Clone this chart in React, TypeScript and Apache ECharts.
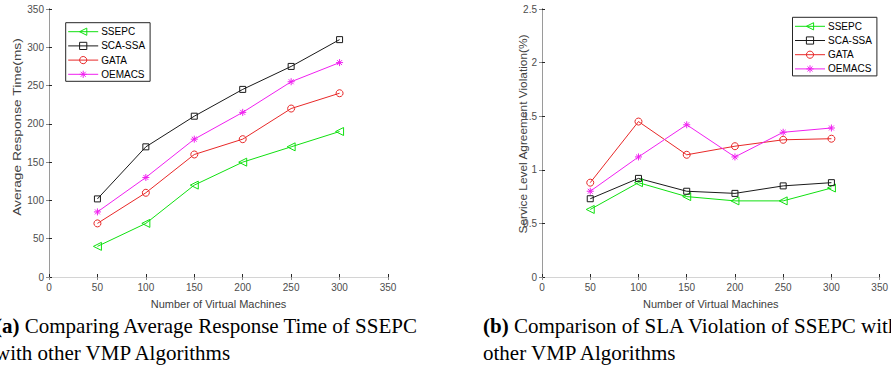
import React, { useEffect, useRef } from 'react';
import * as echarts from 'echarts';

// ---------- data ----------
const vmCounts = [50, 100, 150, 200, 250, 300];
const seriesNames = ['SSEPC', 'SCA-SSA', 'GATA', 'OEMACS'];

// (a) Average Response Time (ms)
const rtSSEPC = [40, 70, 120, 150, 170, 190];
const rtSCASSA = [102, 170, 210, 245, 275, 310];
const rtGATA = [70, 110, 160, 180, 220, 240];
const rtOEMACS = [85, 130, 180, 215, 255, 280];

// (b) SLA violation (%)
const slaSSEPC = [0.63, 0.88, 0.75, 0.71, 0.71, 0.83];
const slaSCASSA = [0.73, 0.92, 0.8, 0.78, 0.85, 0.88];
const slaGATA = [0.88, 1.45, 1.14, 1.22, 1.28, 1.29];
const slaOEMACS = [0.8, 1.12, 1.42, 1.12, 1.35, 1.39];

const xRange = { min: 0, max: 350, interval: 50 };
const rtRange = { min: 0, max: 350, interval: 50 };
const slaRange = { min: 0, max: 2.5, interval: 0.5 };

const xTitle = 'Number of Virtual Machines';
const rtTitle = 'Average Response Time(ms)';
const slaTitle = 'Service Level Agreement Violation(%)';
const captionA1 = '{b|(a)} Comparing Average Response Time of SSEPC';
const captionA2 = 'with other VMP Algorithms';
const captionB1 = '{b|(b)} Comparison of SLA Violation of SSEPC with';
const captionB2 = 'other VMP Algorithms';

// ---------- styles ----------
const SANS = '"Liberation Sans", Arial, sans-serif';
const SERIF = '"Liberation Serif", "Times New Roman", serif';
const colors = ['#10e010', '#1a1a1a', '#e82828', '#f020f0'];
const symbols = [
  'path://M0,5L9,0L9,10Z',
  'rect',
  'circle',
  'path://M5,0L5,10M0,5L10,5M1.5,1.5L8.5,8.5M8.5,1.5L1.5,8.5',
];
const symbolSizes = [8, 6, 7, 7];

function makeAxes(gridIndex: number) {
  const label = { color: '#4d4d4d', fontSize: 10, fontFamily: SANS };
  const dark = '#262626';
  return [
    {
      type: 'value', gridIndex, position: 'bottom', ...xRange,
      axisLine: { show: true, lineStyle: { color: dark, width: 1 } },
      axisTick: { show: true, inside: true, length: 3, lineStyle: { color: dark } },
      axisLabel: { ...label, margin: 5 },
      splitLine: { show: false },
      name: xTitle, nameLocation: 'middle', nameGap: 21,
      nameTextStyle: { color: '#404040', fontSize: 11, fontFamily: SANS },
    },
    {
      type: 'value', gridIndex, position: 'top', ...xRange,
      axisLine: { show: true, lineStyle: { color: '#d4d4d4', width: 1 } },
      axisTick: { show: true, inside: true, length: 3, lineStyle: { color: '#8a8a8a' } },
      axisLabel: { show: false },
      splitLine: { show: false },
    },
  ];
}

function makeYAxes(gridIndex: number, range: any) {
  const dark = '#262626';
  return [
    {
      type: 'value', gridIndex, position: 'left', ...range,
      axisLine: { show: true, lineStyle: { color: dark, width: 1 } },
      axisTick: { show: true, inside: true, length: 3, lineStyle: { color: dark } },
      axisLabel: { color: '#4d4d4d', fontSize: 10, fontFamily: SANS, margin: 5 },
      splitLine: { show: false },
    },
    {
      type: 'value', gridIndex, position: 'right', ...range,
      axisLine: { show: true, lineStyle: { color: '#9a9a9a', width: 1 } },
      axisTick: { show: true, inside: true, length: 3, lineStyle: { color: '#8a8a8a' } },
      axisLabel: { show: false },
      splitLine: { show: false },
    },
  ];
}

function makeSeries(values: number[][], xAxisIndex: number, yAxisIndex: number) {
  return values.map((vals, i) => ({
    type: 'line',
    name: seriesNames[i],
    xAxisIndex,
    yAxisIndex,
    data: vmCounts.map((x, j) => [x, vals[j]]),
    symbol: symbols[i],
    symbolSize: symbolSizes[i],
    showAllSymbol: true,
    color: colors[i],
    lineStyle: { color: colors[i], width: 1 },
    itemStyle: { color: 'rgba(0,0,0,0)', borderColor: colors[i], borderWidth: 1 },
    emphasis: { disabled: true },
  }));
}

function makeLegend(left: number, top: number, padding: number[]) {
  return {
    data: seriesNames,
    orient: 'vertical',
    left,
    top,
    padding,
    itemWidth: 30,
    itemHeight: 9,
    itemGap: 4.2,
    borderColor: '#262626',
    borderWidth: 1,
    borderRadius: 0,
    backgroundColor: '#ffffff',
    selectedMode: false,
    lineStyle: { width: 1 },
    itemStyle: { borderWidth: 1 },
    textStyle: { color: '#000', fontSize: 10, fontFamily: SANS, padding: [0, 0, 0, -2] },
  };
}

export default function App() {
  const ref = useRef<HTMLDivElement>(null);

  useEffect(() => {
    document.body.style.margin = '0';
    if (!ref.current) return;
    const chart = echarts.init(ref.current, undefined, { renderer: 'svg' });
    const option: any = {
      animation: false,
      backgroundColor: '#ffffff',
      grid: [
        { left: 49, top: 9, width: 339, height: 268 },
        { left: 542, top: 9, width: 340, height: 268 },
      ],
      xAxis: [...makeAxes(0), ...makeAxes(1)],
      yAxis: [...makeYAxes(0, rtRange), ...makeYAxes(1, slaRange)],
      legend: [
        makeLegend(65.7, 22.7, [4, 5, 2, 2]),
        makeLegend(792.5, 17.3, [4, 5, 2, 2]),
      ],
      series: [
        ...makeSeries([rtSSEPC, rtSCASSA, rtGATA, rtOEMACS], 0, 0),
        ...makeSeries([slaSSEPC, slaSCASSA, slaGATA, slaOEMACS], 2, 2),
      ],
      graphic: [
        {
          type: 'text', x: 17, y: 127, rotation: Math.PI / 2, scaleX: 1.25,
          style: {
            text: rtTitle, fontSize: 11, fontFamily: SANS, fill: '#404040',
            align: 'center', verticalAlign: 'middle', textAlign: 'center', textVerticalAlign: 'middle',
          },
        },
        {
          type: 'text', x: 523, y: 134, rotation: Math.PI / 2, scaleX: 1.08,
          style: {
            text: slaTitle, fontSize: 11, fontFamily: SANS, fill: '#404040',
            align: 'center', verticalAlign: 'middle', textAlign: 'center', textVerticalAlign: 'middle',
          },
        },
        ...[
          [-5, 326, captionA1],
          [-5, 353, captionA2],
          [483, 326, captionB1],
          [483, 353, captionB2],
        ].map(([x, y, t]) => ({
          type: 'text', x, y,
          style: {
            text: t, fontSize: 21, fontFamily: SERIF, fill: '#000',
            verticalAlign: 'middle', textVerticalAlign: 'middle',
            rich: { b: { fontSize: 21, fontFamily: SERIF, fontWeight: 'bold', fill: '#000' } },
          },
        })),
      ],
    };
    chart.setOption(option);
    return () => chart.dispose();
  }, []);

  return <div ref={ref} style={{ width: 891, height: 375 }} />;
}
